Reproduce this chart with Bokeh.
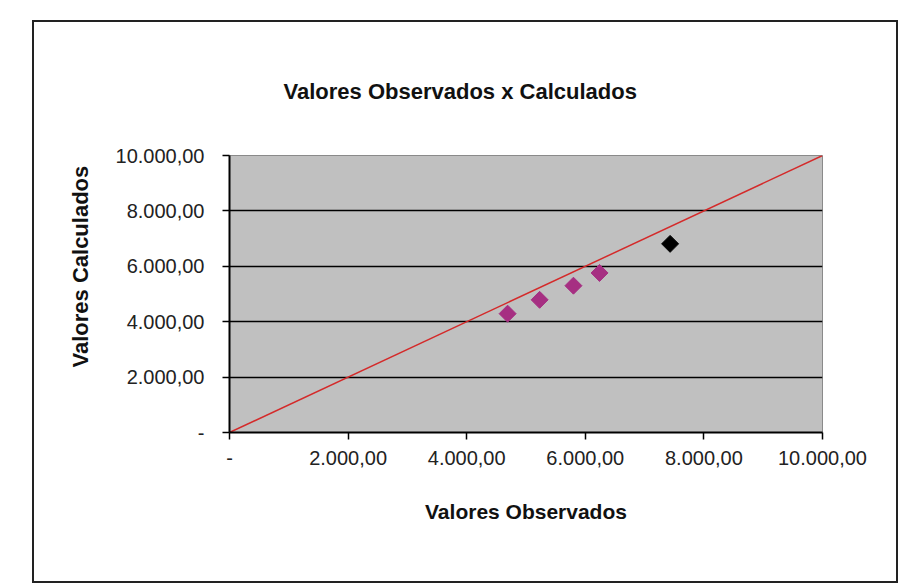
from bokeh.plotting import figure
from bokeh.models import Range1d, FixedTicker, Title
from bokeh.embed import file_html
from bokeh.resources import INLINE

# ---- data ----
obs_magenta = [4690, 5230, 5800, 6240]
calc_magenta = [4290, 4790, 5300, 5760]
obs_black = [7430]
calc_black = [6810]
ref_line_x = [0, 10000]
ref_line_y = [0, 10000]
tick_values = [0, 2000, 4000, 6000, 8000, 10000]
tick_labels = ["-", "2.000,00", "4.000,00", "6.000,00", "8.000,00", "10.000,00"]
title_text = "Valores Observados x Calculados"
x_label = "Valores Observados"
y_label = "Valores Calculados"

W, H = 866, 563
FONT = "Liberation Sans"

p = figure(width=W, height=H, output_backend="svg", toolbar_location=None,
           x_range=Range1d(0, 10000), y_range=Range1d(0, 10000),
           min_border_left=195, min_border_right=78,
           min_border_top=133, min_border_bottom=153)
p.margin = (20, 0, 0, 32)
p.styles = {"border": "2px solid #222222"}

main_title = Title(text=title_text, align="left", offset=54, standoff=104,
                   text_font=FONT, text_font_size="22px", text_font_style="bold",
                   text_color="#111111")
p.add_layout(main_title, "above")

p.background_fill_color = "#c0c0c0"
p.border_fill_color = "white"
p.outline_line_color = "#8a8a8a"
p.outline_line_width = 1

p.xgrid.visible = False
p.ygrid.ticker = FixedTicker(ticks=tick_values[1:-1])
p.ygrid.grid_line_color = "black"
p.ygrid.grid_line_width = 1.5

overrides = {v: t for v, t in zip(tick_values, tick_labels)}
for ax in (p.below[0], p.left[0]):
    ax.ticker = FixedTicker(ticks=tick_values)
    ax.major_label_overrides = overrides
    ax.minor_tick_line_color = None
    ax.major_tick_in = 0
    ax.major_tick_out = 7
    ax.major_tick_line_color = "black"
    ax.major_tick_line_width = 1.5
    ax.axis_line_color = "black"
    ax.axis_line_width = 2
    ax.major_label_text_font = FONT
    ax.major_label_text_font_size = "20px"
    ax.major_label_text_color = "#222222"
    ax.axis_label_text_font = FONT
    ax.axis_label_text_font_size = "21px"
    ax.axis_label_text_font_style = "bold"
    ax.axis_label_text_color = "#111111"

xax = p.below[0]
yax = p.left[0]
xax.axis_label = x_label
xax.major_label_standoff = 11
xax.axis_label_standoff = 32
yax.major_label_standoff = 18
yax.major_label_orientation = "horizontal"

ytitle = Title(text=y_label, align="left", offset=65, standoff=40,
               text_font=FONT, text_font_size="22px", text_font_style="bold",
               text_color="#111111")
p.add_layout(ytitle, "left")

p.line(ref_line_x, ref_line_y, line_color="#d42a2a", line_width=1.5)
p.scatter(obs_magenta, calc_magenta, marker="square", size=12, angle=0.785398,
          fill_color="#a62f82", line_color="#a62f82")
p.scatter(obs_black, calc_black, marker="square", size=12, angle=0.785398,
          fill_color="black", line_color="black")

open("out.html", "w").write(file_html(p, INLINE))
